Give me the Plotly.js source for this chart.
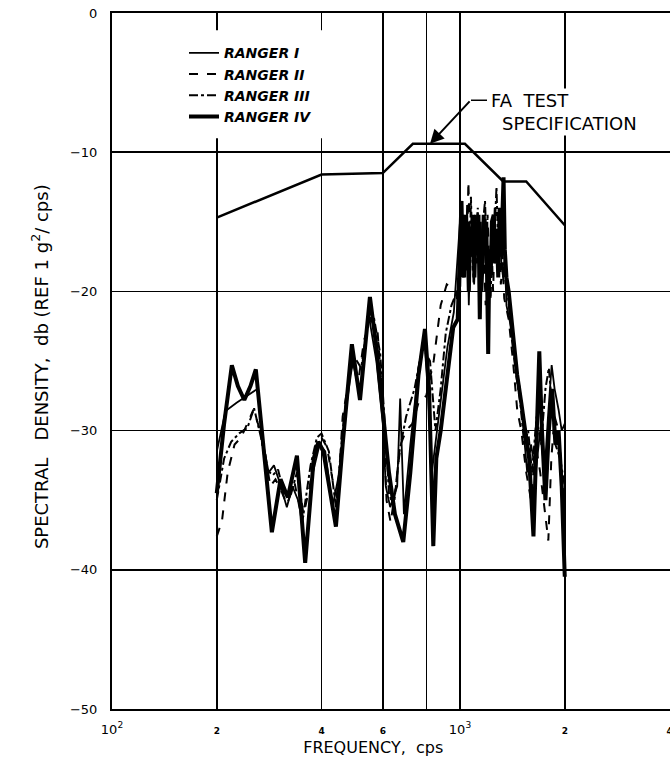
<!DOCTYPE html>
<html>
<head>
<meta charset="utf-8">
<script src="https://cdn.plot.ly/plotly-3.0.1.min.js"></script>
<style>html,body{margin:0;padding:0;background:#fff;}#chart{width:670px;height:772px;}</style>
</head>
<body>
<div id="chart"></div>
<script>
// ---- data ----
const seriesNames = ['RANGER I', 'RANGER II', 'RANGER III', 'RANGER IV'];

const r1Freq = [200,212,228,245,262,272,282,292,304,318,330,345,360,378,395,410,430,450,470,492,515,545,575,600,612,630,660,673,690,720,760,790,810,830,850,880,920,960,1000,1012,1024,1036,1048,1060,1072,1085,1098,1110,1122,1135,1148,1160,1175,1190,1205,1220,1232,1245,1258,1270,1285,1300,1315,1330,1345,1360,1400,1440,1486,1520,1560,1600,1650,1700,1750,1790,1834,1870,1920,1960,2000];
const r1Db   = [-31.5,-28.6,-28.0,-27.5,-27.0,-31,-33,-32.5,-33.8,-35.5,-34,-35.2,-38.8,-33,-31,-31.5,-35.5,-33,-28.5,-25,-27.5,-21.5,-25,-29.5,-34,-35.5,-34,-27.7,-36,-31,-25.5,-23.5,-27.5,-33,-31,-28,-24,-21.5,-15,-18.5,-14.5,-19,-13.8,-21,-16,-15,-19.5,-16.5,-14.5,-18,-15,-20,-16.5,-15.5,-18.5,-19,-15,-17,-14,-17.5,-16,-15,-18,-19,-17.5,-21,-22.5,-25,-27,-30,-33,-31,-33,-30,-33,-29,-25.3,-27,-28.5,-30,-29.5];

const r2Freq = [200,207,215,225,235,245,255,265,275,285,295,305,318,335,352,370,385,400,415,430,445,460,475,490,510,530,555,580,600,615,632,650,675,700,730,760,800,840,880,916,950,975,995,1010,1022,1034,1046,1057,1070,1082,1094,1106,1118,1130,1142,1155,1170,1185,1200,1215,1230,1245,1260,1272,1285,1298,1310,1325,1340,1380,1420,1460,1500,1550,1600,1650,1700,1750,1794,1830,1870,1920,1960,2000];
const r2Db   = [-37.6,-36.5,-33,-31,-30.5,-29.5,-28.5,-29.8,-31.5,-34,-33.5,-34.2,-35.3,-33.8,-36.5,-34,-31,-30.5,-31.2,-33.5,-35,-29,-26.8,-25,-26.5,-23.5,-22,-23,-28,-35,-36.6,-34.5,-31,-30,-29.5,-28,-27.5,-25,-21,-19.5,-19.8,-20,-22,-15,-19,-16.5,-18,-12.1,-17,-15,-19.5,-14.5,-18,-16,-15.5,-19.5,-17,-21,-14.5,-18.5,-16,-20,-15,-17.5,-16.5,-14,-19.5,-18,-20.5,-22,-25,-28.5,-30,-33,-35,-31,-33,-35.5,-37.9,-32,-29,-30,-33,-36];

const r3Freq = [200,210,220,232,245,256,268,278,290,300,312,325,340,355,372,388,400,420,440,460,480,500,520,545,565,590,610,625,645,670,700,740,780,820,850,880,910,945,980,1000,1012,1024,1036,1048,1062,1075,1088,1100,1112,1125,1138,1150,1165,1180,1195,1210,1225,1240,1256,1273,1288,1300,1315,1330,1370,1410,1450,1490,1530,1570,1610,1660,1710,1760,1800,1840,1880,1940,2000];
const r3Db   = [-35,-32,-30.8,-30.2,-29.8,-28.4,-30.5,-32.8,-33.2,-32.8,-34.5,-34.8,-33,-36,-32.5,-30.5,-30.2,-31.5,-35.5,-30,-26,-24.8,-25.5,-22,-21.8,-24.5,-30,-34.5,-35.5,-31.5,-29,-27,-24,-25,-30,-27,-23,-21,-20,-20.5,-14,-18,-15.5,-16.5,-20,-13.2,-18.5,-17,-15,-14,-19.5,-18.5,-15,-13.5,-17.5,-17,-20.5,-15,-16,-12.5,-17,-16.5,-14.5,-18.5,-20,-23.5,-26,-28,-31,-30,-33,-29,-31,-27,-25.5,-28,-31,-32,-34];

const r4Freq = [200,210,221,230,240,250,259,268,278,288,305,320,340,359,380,392,405,420,440,460,489,516,551,575,605,625,650,687,720,760,793,815,838,855,880,920,956,985,1000,1010,1020,1030,1040,1050,1060,1070,1080,1090,1100,1110,1120,1130,1140,1150,1160,1170,1180,1190,1205,1215,1225,1235,1250,1262,1275,1288,1300,1312,1322,1334,1345,1360,1380,1420,1460,1500,1540,1580,1626,1660,1690,1720,1760,1800,1840,1880,1920,1960,2000];
const r4Db   = [-34.5,-29.5,-25.3,-26.8,-27.8,-26.8,-25.6,-29.5,-34,-37.3,-33.5,-34.8,-31.8,-39.5,-32,-30.8,-31.5,-34,-36.9,-31,-23.8,-27.8,-20.4,-24,-29.2,-33,-36,-38,-33,-26,-22.7,-27,-38.3,-32,-30,-26,-22.6,-22,-17,-13.5,-19,-14.5,-18.5,-15,-20,-15.5,-17.5,-14.5,-19,-15,-17,-14.5,-22,-16,-18,-14.5,-16.5,-15,-24.5,-17,-19,-15,-14.5,-18,-15.5,-19,-14,-17.5,-15,-11.8,-17,-19,-20,-23,-26,-28,-30,-32,-37.6,-30,-24.3,-30,-35,-30,-27,-31,-30,-34,-40.5];

const specFreq = [200, 400, 600, 732, 1033, 1331, 1550, 2000];
const specDb   = [-14.7, -11.6, -11.5, -9.4, -9.4, -12.1, -12.1, -15.25];

const xTickVals = [100, 200, 400, 600, 1000, 2000, 4000];
const xTickText = ['10<sup>2</sup>', '2', '4', '6', '10<sup>3</sup>', '2', '4'];
const xGridVals = [200, 400, 600, 800, 1000, 2000];
const yTickVals = [0, -10, -20, -30, -40, -50];

// ---- layout helpers ----
const W = 670, H = 772;
const M = {l: 112, r: 0, t: 12.7, b: 63};
const PW = W - M.l - M.r, PH = H - M.t - M.b;
const px = x => (x - M.l) / PW;      // pixel -> paper
const py = y => 1 - (y - M.t) / PH;

const FONT = 'DejaVu Sans';
const fmtTick = t => t.indexOf('10') === 0
  ? t
  : '<span style="font-size:9px;font-weight:bold">' + t + '</span>';

const traces = [
  {x: r1Freq, y: r1Db, name: seriesNames[0], mode: 'lines', line: {color: '#000', width: 1.8}},
  {x: r2Freq, y: r2Db, name: seriesNames[1], mode: 'lines', line: {color: '#000', width: 2, dash: 'dash'}},
  {x: r3Freq, y: r3Db, name: seriesNames[2], mode: 'lines', line: {color: '#000', width: 2, dash: 'dashdot'}},
  {x: r4Freq, y: r4Db, name: seriesNames[3], mode: 'lines', line: {color: '#000', width: 4}},
  {x: specFreq, y: specDb, name: 'FA TEST SPECIFICATION', mode: 'lines', line: {color: '#000', width: 2.5}, showlegend: false}
];

const layout = {
  width: W, height: H,
  margin: M,
  paper_bgcolor: '#fff', plot_bgcolor: '#fff',
  font: {family: FONT, color: '#000', size: 12},
  showlegend: true,
  legend: {
    x: px(184), y: py(37), xanchor: 'left', yanchor: 'top',
    bgcolor: 'rgba(255,255,255,0)', borderwidth: 0,
    font: {family: FONT, size: 14, style: 'italic', weight: 'bold', color: '#000'},
    tracegroupgap: 0, itemwidth: 30
  },
  xaxis: {
    type: 'log', range: [2, 2 + 558 / 348],
    tickmode: 'array', tickvals: xTickVals, ticktext: xTickText.map(fmtTick),
    tickfont: {family: FONT, size: 13},
    ticks: '', ticklabelstandoff: 7, ticklabeloverflow: 'allow',
    showgrid: false,
    minor: {tickmode: 'array', tickvals: xGridVals, showgrid: true, gridcolor: '#000', gridwidth: 1.5, ticks: ''},
    showline: true, linecolor: '#000', linewidth: 2, mirror: true,
    zeroline: false,
    title: {text: 'FREQUENCY,  cps&nbsp;&nbsp;&nbsp;&nbsp;&nbsp;&nbsp;&nbsp;', font: {family: FONT, size: 16}, standoff: 6}
  },
  yaxis: {
    range: [-50, 0],
    tickmode: 'array', tickvals: yTickVals,
    tickfont: {family: FONT, size: 13},
    ticks: '', ticklabelstandoff: 10,
    showgrid: true, gridcolor: '#000', gridwidth: 1.5,
    showline: true, linecolor: '#000', linewidth: 2,
    zeroline: false,
    title: {text: 'SPECTRAL   DENSITY,  db (REF 1 g<sup>2</sup>/ cps)&nbsp;&nbsp;', font: {family: FONT, size: 18}, standoff: 17}
  },
  shapes: [
    {type: 'rect', xref: 'paper', yref: 'paper', x0: px(114), x1: px(332), y0: py(138), y1: py(30),
     fillcolor: '#fff', line: {width: 0}, layer: 'above'},
    {type: 'line', xref: 'paper', yref: 'paper', x0: px(471), x1: px(487), y0: py(100), y1: py(100),
     line: {color: '#000', width: 1.5}, layer: 'above'}
  ],
  annotations: [
    {xref: 'x', yref: 'y', x: Math.log10(820), y: -9.4, text: '', showarrow: true,
     ax: 41, ay: -44, arrowhead: 2, arrowsize: 1.4, arrowwidth: 2, arrowcolor: '#000', standoff: 0},
    {xref: 'paper', yref: 'paper', x: px(489), y: py(100), xanchor: 'left', yanchor: 'middle',
     text: 'FA  TEST', showarrow: false, bgcolor: '#fff', borderpad: 1,
     font: {family: FONT, size: 18, color: '#000'}},
    {xref: 'paper', yref: 'paper', x: px(500), y: py(123), xanchor: 'left', yanchor: 'middle',
     text: 'SPECIFICATION', showarrow: false, bgcolor: '#fff', borderpad: 1,
     font: {family: FONT, size: 18, color: '#000'}}
  ]
};

Plotly.newPlot('chart', traces, layout, {displayModeBar: false, staticPlot: true});
</script>
</body>
</html>
